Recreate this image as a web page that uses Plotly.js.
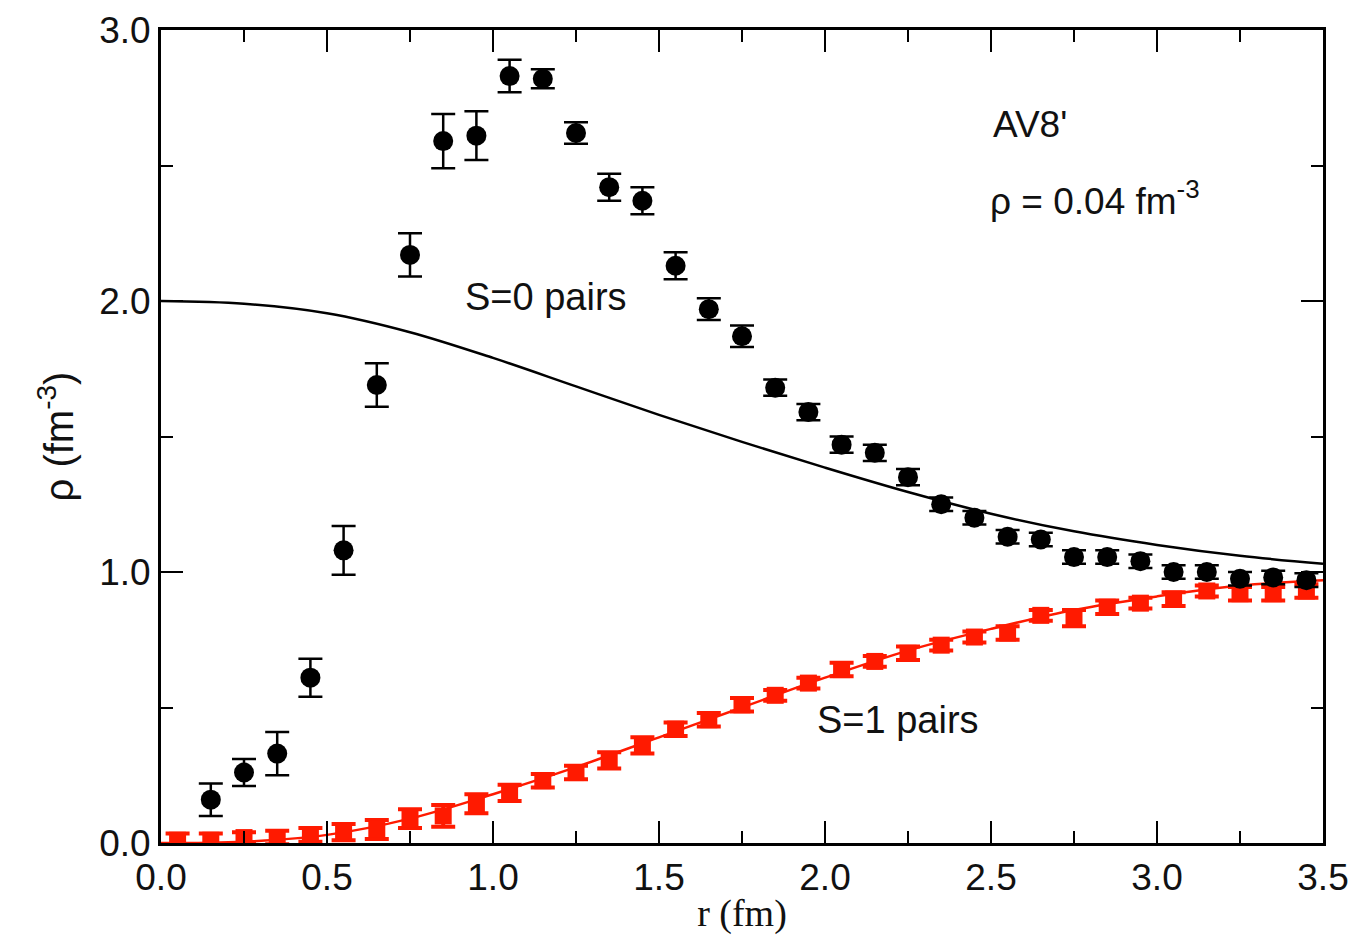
<!DOCTYPE html>
<html>
<head>
<meta charset="utf-8">
<script src="https://cdn.plot.ly/plotly-3.0.1.min.js"></script>
<style>html,body{margin:0;padding:0;background:#fff;}#chart{width:1370px;height:935px;}</style>
</head>
<body>
<div id="chart"></div>
<script>
// S=0 pairs (black circles)
const rS0 = [0.15,0.25,0.35,0.45,0.55,0.65,0.75,0.85,0.95,1.05,1.15,1.25,1.35,1.45,1.55,1.65,1.75,1.85,1.95,2.05,2.15,2.25,2.35,2.45,2.55,2.65,2.75,2.85,2.95,3.05,3.15,3.25,3.35,3.45];
const rhoS0 = [0.16,0.26,0.33,0.61,1.08,1.69,2.17,2.59,2.61,2.83,2.82,2.62,2.42,2.37,2.13,1.97,1.87,1.68,1.59,1.47,1.44,1.35,1.25,1.20,1.13,1.12,1.055,1.055,1.04,1.00,1.00,0.975,0.98,0.97];
const errS0 = [0.06,0.05,0.08,0.07,0.09,0.08,0.08,0.10,0.09,0.06,0.035,0.04,0.05,0.05,0.05,0.04,0.04,0.03,0.03,0.03,0.03,0.03,0.025,0.025,0.025,0.025,0.025,0.025,0.025,0.025,0.025,0.025,0.025,0.025];

// S=1 pairs (red squares)
const rS1 = [0.05,0.15,0.25,0.35,0.45,0.55,0.65,0.75,0.85,0.95,1.05,1.15,1.25,1.35,1.45,1.55,1.65,1.75,1.85,1.95,2.05,2.15,2.25,2.35,2.45,2.55,2.65,2.75,2.85,2.95,3.05,3.15,3.25,3.35,3.45];
const rhoS1 = [0.01,0.01,0.02,0.02,0.03,0.04,0.05,0.09,0.10,0.145,0.185,0.23,0.26,0.305,0.36,0.42,0.455,0.51,0.545,0.59,0.64,0.67,0.70,0.73,0.76,0.775,0.84,0.83,0.87,0.885,0.90,0.93,0.92,0.92,0.93];
const errS1 = [0.025,0.025,0.02,0.025,0.025,0.03,0.035,0.035,0.04,0.035,0.03,0.025,0.025,0.03,0.03,0.025,0.025,0.025,0.02,0.02,0.025,0.02,0.025,0.02,0.02,0.025,0.02,0.03,0.025,0.02,0.025,0.02,0.025,0.025,0.025];

// Reference curves (solid lines)
const rCurve = [0,0.25,0.5,0.75,1.0,1.25,1.5,1.75,2.0,2.25,2.5,2.75,3.0,3.25,3.5];
const rhoCurveS0 = [2.00,1.99,1.955,1.885,1.79,1.685,1.58,1.48,1.385,1.295,1.215,1.15,1.10,1.06,1.03];
const rhoCurveS1 = [0.00,0.005,0.03,0.09,0.18,0.28,0.39,0.50,0.61,0.71,0.79,0.86,0.91,0.95,0.97];

const xTicks = [0,0.5,1.0,1.5,2.0,2.5,3.0,3.5];
const xTickText = ["0.0","0.5","1.0","1.5","2.0","2.5","3.0","3.5"];
const yTicks = [0,1,2,3];
const yTickText = ["0.0","1.0","2.0","3.0"];

const traces = [
  {x: rCurve, y: rhoCurveS0, mode:'lines', line:{color:'#000', width:2.5, shape:'spline', smoothing:1}, hoverinfo:'skip'},
  {x: rCurve, y: rhoCurveS1, mode:'lines', line:{color:'#ff1a00', width:2.5, shape:'spline', smoothing:1}, hoverinfo:'skip'},
  {x: rS1, y: rhoS1, mode:'markers', marker:{symbol:'square', size:17, color:'#ff1a00'},
   error_y:{type:'data', array: errS1, visible:true, color:'#ff1a00', thickness:4, width:12}},
  {x: rS0, y: rhoS0, mode:'markers', marker:{symbol:'circle', size:20, color:'#000'},
   error_y:{type:'data', array: errS0, visible:true, color:'#000', thickness:2.5, width:12}}
];

const axisCommon = {
  showline:true, linecolor:'#000', linewidth:3, mirror:'allticks',
  ticks:'inside', ticklen:22, tickwidth:2, tickcolor:'#000',
  showgrid:false, zeroline:false,
  tickfont:{family:'"Liberation Sans", Arial, sans-serif', size:37, color:'#111'}
};

const layout = {
  width:1370, height:935,
  margin:{l:161, r:47, t:30, b:92},
  paper_bgcolor:'#fff', plot_bgcolor:'#fff',
  showlegend:false,
  xaxis: Object.assign({}, axisCommon, {
    range:[0,3.5], tickmode:'array', tickvals:xTicks, ticktext:xTickText,
    minor:{ticks:'inside', ticklen:12, tickwidth:2, tickcolor:'#000', dtick:0.25, tick0:0, showgrid:false},
    title:{text:'r (fm)', font:{family:'"Liberation Serif", "Times New Roman", serif', size:38, color:'#111'}, standoff:2}
  }),
  yaxis: Object.assign({}, axisCommon, {
    range:[0,3], tickmode:'array', tickvals:yTicks, ticktext:yTickText,
    minor:{ticks:'inside', ticklen:12, tickwidth:2, tickcolor:'#000', dtick:0.5, tick0:0, showgrid:false},
    title:{text:'ρ (fm<sup>-3</sup>)', font:{family:'"Liberation Sans", Arial, sans-serif', size:40, color:'#111'}, standoff:14}
  }),
  annotations:[
    {x:2.50, y:2.65, xref:'x', yref:'y', xanchor:'left', yanchor:'middle', showarrow:false, text:"AV8'",
     font:{family:'"Liberation Sans", Arial, sans-serif', size:37, color:'#111'}},
    {x:2.49, y:2.38, xref:'x', yref:'y', xanchor:'left', yanchor:'middle', showarrow:false, text:'ρ = 0.04 fm<sup>-3</sup>',
     font:{family:'"Liberation Sans", Arial, sans-serif', size:37, color:'#111'}},
    {x:0.91, y:2.015, xref:'x', yref:'y', xanchor:'left', yanchor:'middle', showarrow:false, text:'S=0 pairs',
     font:{family:'"Liberation Sans", Arial, sans-serif', size:38, color:'#111'}},
    {x:1.97, y:0.454, xref:'x', yref:'y', xanchor:'left', yanchor:'middle', showarrow:false, text:'S=1 pairs',
     font:{family:'"Liberation Sans", Arial, sans-serif', size:38, color:'#111'}}
  ]
};

Plotly.newPlot('chart', traces, layout, {displayModeBar:false, staticPlot:true});
</script>
</body>
</html>
